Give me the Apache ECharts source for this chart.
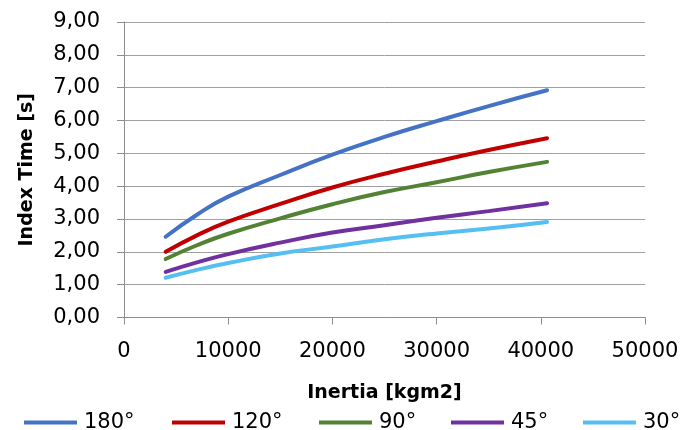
<!DOCTYPE html>
<html>
<head>
<meta charset="utf-8">
<script src="https://cdn.jsdelivr.net/npm/echarts@6/dist/echarts.min.js"></script>
<style>html,body{margin:0;padding:0;background:#fff}#c{width:700px;height:430px}</style>
</head>
<body>
<div id="c"></div>
<script>
const inertia = [4000, 7000, 10000, 15000, 20000, 25000, 30000, 35000, 40600];
const s180 = [2.46, 3.13, 3.68, 4.34, 4.96, 5.50, 5.98, 6.44, 6.92];
const s120 = [2.00, 2.50, 2.92, 3.46, 3.96, 4.38, 4.75, 5.10, 5.46];
const s90  = [1.78, 2.20, 2.55, 3.02, 3.45, 3.82, 4.12, 4.43, 4.74];
const s45  = [1.39, 1.68, 1.93, 2.28, 2.59, 2.81, 3.04, 3.24, 3.48];
const s30  = [1.21, 1.45, 1.66, 1.95, 2.16, 2.38, 2.56, 2.71, 2.91];
const seriesNames = ['180°', '120°', '90°', '45°', '30°'];
const seriesValues = [s180, s120, s90, s45, s30];
const colors = ['#4472C4', '#C00000', '#548235', '#7030A0', '#55BEF2'];
const legendLeft = [19, 167, 314, 446, 578];

const FONT = 'DejaVu Sans';
const chart = echarts.init(document.getElementById('c'));
chart.setOption({
  animation: false,
  textStyle: {fontFamily: FONT},
  grid: {left: 124, right: 55, top: 22, bottom: 112.5},
  legend: seriesNames.map((n, i) => ({
    data: [n], left: legendLeft[i], top: 407, icon: 'rect',
    itemWidth: 53, itemHeight: 4, itemGap: 0,
    textStyle: {fontFamily: FONT, fontSize: 21, color: '#000', padding: [0, 0, 0, 2]}
  })),
  xAxis: {
    type: 'value', min: 0, max: 50000, interval: 10000,
    name: 'Inertia [kgm2]', nameLocation: 'middle', nameGap: 66,
    nameTextStyle: {fontFamily: FONT, fontSize: 19, fontWeight: 'bold', color: '#000'},
    axisLine: {show: true, lineStyle: {color: '#8C8C8C', width: 1}},
    axisTick: {show: true, length: 7, lineStyle: {color: '#8C8C8C'}},
    axisLabel: {fontFamily: FONT, fontSize: 21, color: '#000', margin: 24,
      formatter: v => String(v)},
    splitLine: {show: false}
  },
  yAxis: {
    type: 'value', min: 0, max: 9, interval: 1,
    name: 'Index Time [s]', nameLocation: 'middle', nameGap: 87,
    nameTextStyle: {fontFamily: FONT, fontSize: 19, fontWeight: 'bold', color: '#000'},
    axisLine: {show: true, lineStyle: {color: '#8C8C8C', width: 1}},
    axisTick: {show: true, length: 7, lineStyle: {color: '#8C8C8C'}},
    axisLabel: {fontFamily: FONT, fontSize: 21, color: '#000', margin: 24,
      formatter: v => v.toFixed(2).replace('.', ',')},
    splitLine: {show: true, lineStyle: {color: '#A0A0A0', width: 1}}
  },
  series: seriesNames.map((n, i) => ({
    name: n, type: 'line', smooth: 0.5, showSymbol: false, symbol: 'none',
    color: colors[i],
    lineStyle: {color: colors[i], width: 4, cap: 'round'},
    data: inertia.map((x, k) => [x, seriesValues[i][k]])
  }))
});
</script>
</body>
</html>
